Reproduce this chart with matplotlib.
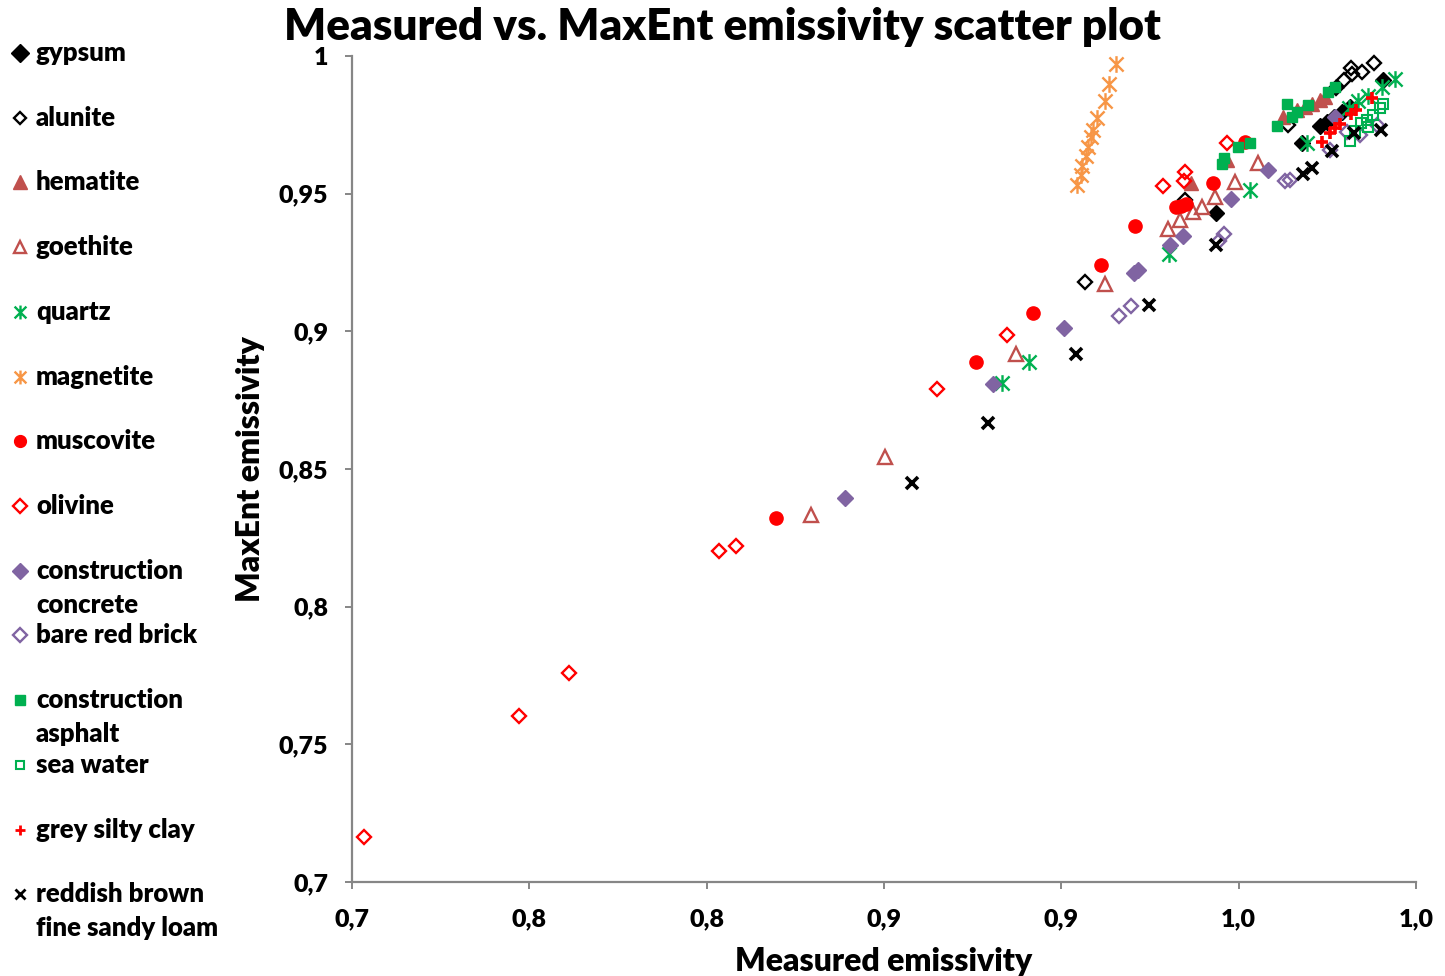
import matplotlib
matplotlib.use("Agg")
import matplotlib.pyplot as plt
from matplotlib.lines import Line2D
from matplotlib.path import Path

plt.rcParams['font.family'] = ['Lato', 'DejaVu Sans']
plt.rcParams['font.weight'] = 'bold'
FW = 'heavy'

# ---------------- data ----------------
gypsum_x = [0.9436, 0.9679, 0.9730, 0.9750, 0.9770, 0.9792, 0.9814, 0.9907]
gypsum_y = [0.9430, 0.9684, 0.9745, 0.9762, 0.9780, 0.9797, 0.9815, 0.9913]

alunite_x = [0.9067, 0.9349, 0.9640, 0.9775, 0.9797, 0.9820, 0.9848, 0.9817, 0.9882]
alunite_y = [0.9179, 0.9477, 0.9750, 0.9884, 0.9913, 0.9935, 0.9942, 0.9956, 0.9975]

hematite_x = [0.9366, 0.9468, 0.9625, 0.9665, 0.9687, 0.9707, 0.9730, 0.9744]
hematite_y = [0.9539, 0.9622, 0.9778, 0.9804, 0.9815, 0.9826, 0.9840, 0.9851]

goethite_x = [0.8294, 0.8503, 0.8872, 0.9123, 0.9301, 0.9335, 0.9372, 0.9397, 0.9434, 0.9490, 0.9555]
goethite_y = [0.8333, 0.8544, 0.8918, 0.9172, 0.9372, 0.9404, 0.9433, 0.9452, 0.9488, 0.9542, 0.9611]

quartz_x = [0.8833, 0.8909, 0.9304, 0.9532, 0.9693, 0.9811, 0.9837, 0.9865, 0.9905, 0.9941]
quartz_y = [0.8812, 0.8889, 0.9281, 0.9513, 0.9684, 0.9811, 0.9837, 0.9855, 0.9887, 0.9916]

magnetite_x = [0.9045, 0.9056, 0.9059, 0.9070, 0.9076, 0.9084, 0.9090, 0.9101, 0.9123, 0.9135, 0.9154]
magnetite_y = [0.9532, 0.9568, 0.9600, 0.9637, 0.9670, 0.9706, 0.9731, 0.9775, 0.9837, 0.9898, 0.9971]

muscovite_x = [0.8196, 0.8760, 0.8920, 0.9112, 0.9208, 0.9324, 0.9338, 0.9352, 0.9428, 0.9518]
muscovite_y = [0.8323, 0.8889, 0.9067, 0.9241, 0.9383, 0.9452, 0.9455, 0.9462, 0.9539, 0.9688]

olivine_x = [0.7034, 0.7471, 0.7612, 0.8035, 0.8083, 0.8650, 0.8847, 0.9287, 0.9346, 0.9349, 0.9468]
olivine_y = [0.7163, 0.7603, 0.7759, 0.8203, 0.8221, 0.8791, 0.8987, 0.9528, 0.9546, 0.9579, 0.9684]

concrete_x = [0.8390, 0.8808, 0.9008, 0.9205, 0.9217, 0.9307, 0.9343, 0.9479, 0.9583, 0.9772]
concrete_y = [0.8395, 0.8809, 0.9012, 0.9212, 0.9223, 0.9314, 0.9346, 0.9481, 0.9586, 0.9778]

brick_x = [0.9163, 0.9197, 0.9445, 0.9459, 0.9631, 0.9645, 0.9758, 0.9806, 0.9843, 0.9891]
brick_y = [0.9056, 0.9092, 0.9328, 0.9354, 0.9546, 0.9550, 0.9659, 0.9724, 0.9713, 0.9750]

asphalt_x = [0.9453, 0.9459, 0.9498, 0.9532, 0.9609, 0.9637, 0.9651, 0.9665, 0.9696, 0.9752, 0.9772]
asphalt_y = [0.9608, 0.9630, 0.9670, 0.9684, 0.9746, 0.9826, 0.9778, 0.9797, 0.9822, 0.9869, 0.9887]

seawater_x = [0.9814, 0.9828, 0.9845, 0.9862, 0.9879, 0.9899, 0.9907, 0.9865]
seawater_y = [0.9691, 0.9728, 0.9757, 0.9768, 0.9786, 0.9811, 0.9826, 0.9742]

clay_x = [0.9736, 0.9758, 0.9772, 0.9786, 0.9817, 0.9831, 0.9876]
clay_y = [0.9688, 0.9720, 0.9739, 0.9753, 0.9789, 0.9804, 0.9847]

loam_x = [0.8579, 0.8794, 0.9042, 0.9248, 0.9436, 0.9682, 0.9707, 0.9764, 0.9826, 0.9902]
loam_y = [0.8449, 0.8667, 0.8918, 0.9096, 0.9314, 0.9571, 0.9593, 0.9655, 0.9720, 0.9731]

series_labels = ["gypsum", "alunite", "hematite", "goethite", "quartz", "magnetite",
                 "muscovite", "olivine", "construction\nconcrete", "bare red brick",
                 "construction\nasphalt", "sea water", "grey silty clay",
                 "reddish brown\nfine sandy loam"]

x_ticks = [0.70, 0.75, 0.80, 0.85, 0.90, 0.95, 1.00]
x_tick_labels = ['0,7', '0,8', '0,8', '0,9', '0,9', '1,0', '1,0']
y_ticks = [0.70, 0.75, 0.80, 0.85, 0.90, 0.95, 1.00]
y_tick_labels = ['0,7', '0,75', '0,8', '0,85', '0,9', '0,95', '1']

# ---------------- styles ----------------
ast = Path([(0, -1), (0, 1), (-0.85, -0.85), (0.85, 0.85), (-0.85, 0.85), (0.85, -0.85)],
           [Path.MOVETO, Path.LINETO, Path.MOVETO, Path.LINETO, Path.MOVETO, Path.LINETO])

RED = '#FF0000'
BRN = '#C0504D'
GRN = '#00B050'
ORG = '#F79646'
PUR = '#8064A2'

# (x, y, marker, size, facecolor, edgecolor, edgewidth, legend size)
styles = [
    (gypsum_x, gypsum_y, 'D', 7.8, 'black', 'black', 1.0, 9),
    (alunite_x, alunite_y, 'D', 7.2, 'none', 'black', 1.7, 6.5),
    (hematite_x, hematite_y, '^', 10.5, BRN, BRN, 1.0, 10),
    (goethite_x, goethite_y, '^', 10.5, 'none', BRN, 1.7, 9),
    (quartz_x, quartz_y, ast, 12, 'none', GRN, 1.7, 10),
    (magnetite_x, magnetite_y, ast, 12, 'none', ORG, 1.7, 10),
    (muscovite_x, muscovite_y, 'o', 9.5, RED, RED, 1.0, 8.5),
    (olivine_x, olivine_y, 'D', 7.3, 'none', RED, 1.7, 7.3),
    (concrete_x, concrete_y, 'D', 7.8, PUR, PUR, 1.0, 8),
    (brick_x, brick_y, 'D', 7.3, 'none', PUR, 1.7, 7.5),
    (asphalt_x, asphalt_y, 's', 7.8, GRN, GRN, 1.0, 6.5),
    (seawater_x, seawater_y, 's', 7.8, 'none', GRN, 1.5, 5.5),
    (clay_x, clay_y, '+', 8, RED, RED, 2.6, 7),
    (loam_x, loam_y, 'x', 8, 'black', 'black', 2.6, 7),
]

W, H = 1445, 976
fig = plt.figure(figsize=(W / 100, H / 100), dpi=100)
ax = fig.add_axes([352 / W, 1 - 882 / H, (1416 - 352) / W, (882 - 56) / H])

for (xs, ys, mk, ms, fc, ec, ew, lms), lab in zip(styles, series_labels):
    ax.plot(xs, ys, linestyle='none', marker=mk, markersize=ms,
            markerfacecolor=fc, markeredgecolor=ec, markeredgewidth=ew,
            clip_on=False, label=lab)

ax.set_xlim(0.7, 1.0)
ax.set_ylim(0.7, 1.0)
ax.set_xticks(x_ticks)
ax.set_xticklabels(x_tick_labels)
ax.set_yticks(y_ticks)
ax.set_yticklabels(y_tick_labels)

for s in ['top', 'right']:
    ax.spines[s].set_visible(False)
for s in ['left', 'bottom']:
    ax.spines[s].set_color('#868686')
    ax.spines[s].set_linewidth(1.6)

ax.tick_params(axis='both', direction='out', length=5, width=1.4, color='#868686',
               labelsize=18, labelcolor='black')
ax.tick_params(axis='y', pad=12)
ax.tick_params(axis='x', pad=14)
for t in ax.get_xticklabels() + ax.get_yticklabels():
    t.set_fontweight(FW)

ax.set_xlabel('Measured emissivity', fontsize=23, fontweight=FW, labelpad=12)
ax.set_ylabel('MaxEnt emissivity', fontsize=23, fontweight=FW, labelpad=10)
fig.text(0.5, 1 - 27 / H, 'Measured vs. MaxEnt emissivity scatter plot',
         ha='center', va='center', fontsize=31.7, fontweight=FW)

# ---------------- legend (manual, left side) ----------------
leg_y = [53, 118, 182, 247, 312, 377, 441, 506, 571, 635, 700, 765, 830, 894]
for (xs, ys, mk, ms, fc, ec, ew, lms), lab, py in zip(styles, series_labels, leg_y):
    fig.add_artist(Line2D([20 / W], [1 - py / H], transform=fig.transFigure,
                          linestyle='none', marker=mk, markersize=lms,
                          markerfacecolor=fc, markeredgecolor=ec,
                          markeredgewidth=min(ew, 2.0)))
    for i, line in enumerate(lab.split('\n')):
        fig.text(36 / W, 1 - (py + 8 + 34 * i) / H, line, ha='left', va='baseline',
                 fontsize=18.5, fontweight=FW)

fig.savefig('out.png', dpi=100)
